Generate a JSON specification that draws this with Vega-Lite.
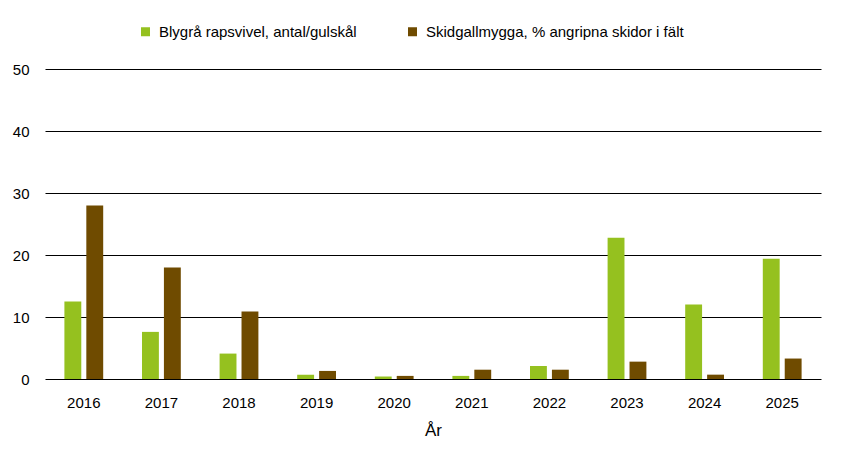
{
  "$schema": "https://vega.github.io/schema/vega-lite/v6.json",
  "autosize": {"type": "none"},
  "width": 776,
  "height": 310,
  "padding": {"left": 45, "top": 69, "right": 20, "bottom": 77},
  "background": "white",
  "config": {
    "font": "Liberation Sans",
    "view": {"stroke": null}
  },
  "data": {
    "values": [
      {"year": "2016", "series": "Blygrå rapsvivel, antal/gulskål", "value": 12.5},
      {"year": "2016", "series": "Skidgallmygga, % angripna skidor i fält", "value": 28},
      {"year": "2017", "series": "Blygrå rapsvivel, antal/gulskål", "value": 7.6},
      {"year": "2017", "series": "Skidgallmygga, % angripna skidor i fält", "value": 18},
      {"year": "2018", "series": "Blygrå rapsvivel, antal/gulskål", "value": 4.1},
      {"year": "2018", "series": "Skidgallmygga, % angripna skidor i fält", "value": 10.9},
      {"year": "2019", "series": "Blygrå rapsvivel, antal/gulskål", "value": 0.7},
      {"year": "2019", "series": "Skidgallmygga, % angripna skidor i fält", "value": 1.3},
      {"year": "2020", "series": "Blygrå rapsvivel, antal/gulskål", "value": 0.4},
      {"year": "2020", "series": "Skidgallmygga, % angripna skidor i fält", "value": 0.5},
      {"year": "2021", "series": "Blygrå rapsvivel, antal/gulskål", "value": 0.5},
      {"year": "2021", "series": "Skidgallmygga, % angripna skidor i fält", "value": 1.5},
      {"year": "2022", "series": "Blygrå rapsvivel, antal/gulskål", "value": 2.1},
      {"year": "2022", "series": "Skidgallmygga, % angripna skidor i fält", "value": 1.5},
      {"year": "2023", "series": "Blygrå rapsvivel, antal/gulskål", "value": 22.8},
      {"year": "2023", "series": "Skidgallmygga, % angripna skidor i fält", "value": 2.8},
      {"year": "2024", "series": "Blygrå rapsvivel, antal/gulskål", "value": 12.0},
      {"year": "2024", "series": "Skidgallmygga, % angripna skidor i fält", "value": 0.7},
      {"year": "2025", "series": "Blygrå rapsvivel, antal/gulskål", "value": 19.4},
      {"year": "2025", "series": "Skidgallmygga, % angripna skidor i fält", "value": 3.3}
    ]
  },
  "mark": {"type": "bar"},
  "encoding": {
    "x": {
      "field": "year",
      "type": "nominal",
      "title": "År",
      "scale": {"paddingInner": 0.5, "paddingOuter": 0.25},
      "axis": {
        "labelAngle": 0,
        "ticks": false,
        "domain": false,
        "labelPadding": 16,
        "labelFontSize": 15,
        "labelColor": "#000000",
        "titleFontSize": 17,
        "titleFontWeight": "normal",
        "titleColor": "#000000",
        "titlePadding": 12
      }
    },
    "xOffset": {
      "field": "series",
      "type": "nominal",
      "scale": {"paddingInner": 0.23, "paddingOuter": 0}
    },
    "y": {
      "field": "value",
      "type": "quantitative",
      "title": null,
      "scale": {"domain": [0, 50]},
      "axis": {
        "values": [0, 10, 20, 30, 40, 50],
        "ticks": false,
        "domain": false,
        "grid": true,
        "gridColor": "#000000",
        "gridWidth": 1.2,
        "gridOpacity": 1,
        "labelPadding": 16,
        "labelFontSize": 15,
        "labelColor": "#000000"
      }
    },
    "color": {
      "field": "series",
      "type": "nominal",
      "title": null,
      "scale": {
        "domain": ["Blygrå rapsvivel, antal/gulskål", "Skidgallmygga, % angripna skidor i fält"],
        "range": ["#95c11f", "#6f4b00"]
      },
      "legend": {
        "orient": "none",
        "direction": "horizontal",
        "legendX": 93,
        "legendY": -45,
        "symbolType": "square",
        "symbolSize": 81,
        "symbolStrokeWidth": 0,
        "labelFontSize": 15,
        "labelOffset": 6,
        "labelColor": "#000000",
        "labelLimit": 400,
        "columnPadding": 48
      }
    }
  }
}
